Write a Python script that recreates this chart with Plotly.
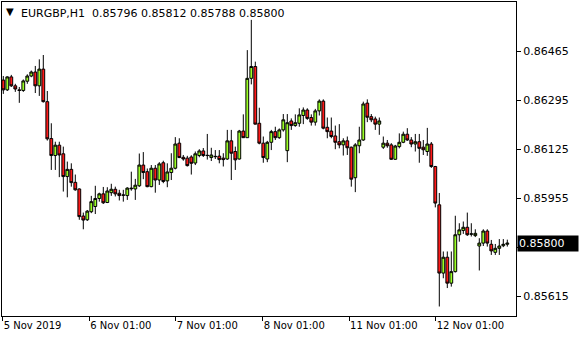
import plotly.graph_objects as go

symbol_text = "EURGBP,H1  0.85796 0.85812 0.85788 0.85800"
last_price = 0.85800

opens = [0.86366, 0.86332, 0.86377, 0.86346, 0.86332, 0.86330, 0.86362, 0.86380, 0.86394, 0.86346,
         0.86404, 0.86291, 0.86163, 0.86104, 0.86140, 0.86110, 0.86031, 0.86056, 0.86011, 0.85988,
         0.85894, 0.85881, 0.85909, 0.85927, 0.85955, 0.85971, 0.85941, 0.85975, 0.85987, 0.85973,
         0.85966, 0.85965, 0.85991, 0.85988, 0.85999, 0.86071, 0.86048, 0.85996, 0.86060, 0.86019,
         0.86079, 0.86016, 0.86045, 0.86060, 0.86147, 0.86098, 0.86095, 0.86099, 0.86078, 0.86104,
         0.86120, 0.86105, 0.86097, 0.86100, 0.86102, 0.86095, 0.86092, 0.86155, 0.86118, 0.86092,
         0.86189, 0.86166, 0.86372, 0.86413, 0.86216, 0.86147, 0.86092, 0.86150, 0.86187, 0.86166,
         0.86193, 0.86121, 0.86224, 0.86208, 0.86216, 0.86243, 0.86262, 0.86236, 0.86220, 0.86259,
         0.86293, 0.86202, 0.86189, 0.86172, 0.86152, 0.86141, 0.86155, 0.86133, 0.86027, 0.86138,
         0.86158, 0.86286, 0.86239, 0.86231, 0.86213, 0.86133, 0.86147, 0.86141, 0.86091, 0.86135,
         0.86150, 0.86178, 0.86158, 0.86144, 0.86152, 0.86133, 0.86118, 0.86144, 0.86066, 0.85933,
         0.85696, 0.85751, 0.85661, 0.85701, 0.85829, 0.85844, 0.85855, 0.85831, 0.85826, 0.85790,
         0.85800, 0.85842, 0.85796, 0.85768, 0.85782, 0.85791, 0.85796]

highs = [0.86380, 0.86379, 0.86384, 0.86353, 0.86342, 0.86368, 0.86386, 0.86399, 0.86415, 0.86438,
         0.86453, 0.86328, 0.86216, 0.86152, 0.86152, 0.86135, 0.86083, 0.86077, 0.86038, 0.85990,
         0.85906, 0.85915, 0.85964, 0.85999, 0.85975, 0.85995, 0.85994, 0.86006, 0.85996, 0.85985,
         0.85985, 0.85994, 0.86048, 0.86023, 0.86111, 0.86116, 0.86059, 0.86071, 0.86071, 0.86081,
         0.86086, 0.86077, 0.86112, 0.86168, 0.86164, 0.86106, 0.86103, 0.86105, 0.86118, 0.86126,
         0.86130, 0.86179, 0.86131, 0.86123, 0.86123, 0.86112, 0.86193, 0.86193, 0.86135, 0.86193,
         0.86247, 0.86470, 0.86575, 0.86430, 0.86270, 0.86170, 0.86155, 0.86193, 0.86204, 0.86198,
         0.86248, 0.86248, 0.86233, 0.86247, 0.86268, 0.86271, 0.86268, 0.86247, 0.86266, 0.86299,
         0.86299, 0.86236, 0.86236, 0.86208, 0.86213, 0.86164, 0.86170, 0.86135, 0.86147, 0.86204,
         0.86291, 0.86299, 0.86248, 0.86239, 0.86236, 0.86170, 0.86158, 0.86147, 0.86141, 0.86181,
         0.86187, 0.86199, 0.86168, 0.86179, 0.86179, 0.86158, 0.86200, 0.86151, 0.86068, 0.85974,
         0.85771, 0.85771, 0.85771, 0.85895, 0.85869, 0.85875, 0.85906, 0.85869, 0.85848, 0.85817,
         0.85848, 0.85848, 0.85811, 0.85797, 0.85814, 0.85814, 0.85812]

lows = [0.86318, 0.86328, 0.86342, 0.86325, 0.86287, 0.86325, 0.86353, 0.86376, 0.86321, 0.86311,
        0.86288, 0.86156, 0.86054, 0.86054, 0.86029, 0.85979, 0.85959, 0.85996, 0.85982, 0.85881,
        0.85848, 0.85877, 0.85904, 0.85901, 0.85944, 0.85936, 0.85939, 0.85964, 0.85962, 0.85948,
        0.85944, 0.85950, 0.85982, 0.85950, 0.85995, 0.86022, 0.85994, 0.85994, 0.85975, 0.86002,
        0.86008, 0.85994, 0.86019, 0.86056, 0.86095, 0.86086, 0.86066, 0.86038, 0.86071, 0.86098,
        0.86099, 0.86090, 0.86085, 0.86092, 0.86077, 0.86066, 0.86089, 0.86019, 0.86054, 0.86090,
        0.86165, 0.86165, 0.86351, 0.86212, 0.86143, 0.86079, 0.86081, 0.86123, 0.86158, 0.86162,
        0.86187, 0.86081, 0.86193, 0.86204, 0.86204, 0.86213, 0.86228, 0.86208, 0.86208, 0.86243,
        0.86195, 0.86164, 0.86164, 0.86126, 0.86129, 0.86104, 0.86106, 0.85996, 0.85977, 0.86112,
        0.86155, 0.86220, 0.86220, 0.86193, 0.86176, 0.86127, 0.86131, 0.86089, 0.86089, 0.86129,
        0.86147, 0.86155, 0.86133, 0.86118, 0.86079, 0.86106, 0.86103, 0.86061, 0.85924, 0.85580,
        0.85678, 0.85644, 0.85649, 0.85698, 0.85805, 0.85832, 0.85825, 0.85823, 0.85821, 0.85705,
        0.85790, 0.85788, 0.85759, 0.85759, 0.85759, 0.85786, 0.85788]

closes = [0.86332, 0.86377, 0.86346, 0.86335, 0.86330, 0.86363, 0.86380, 0.86394, 0.86346, 0.86404,
          0.86291, 0.86162, 0.86104, 0.86140, 0.86106, 0.86031, 0.86056, 0.86010, 0.85985, 0.85892,
          0.85880, 0.85911, 0.85944, 0.85955, 0.85971, 0.85940, 0.85981, 0.85987, 0.85971, 0.85965,
          0.85967, 0.85991, 0.85989, 0.86001, 0.86071, 0.86045, 0.85996, 0.86060, 0.86019, 0.86075,
          0.86014, 0.86047, 0.86060, 0.86144, 0.86097, 0.86092, 0.86069, 0.86077, 0.86110, 0.86120,
          0.86104, 0.86104, 0.86106, 0.86101, 0.86090, 0.86090, 0.86155, 0.86112, 0.86089, 0.86189,
          0.86166, 0.86372, 0.86413, 0.86213, 0.86147, 0.86097, 0.86150, 0.86187, 0.86166, 0.86193,
          0.86228, 0.86218, 0.86208, 0.86218, 0.86245, 0.86262, 0.86233, 0.86220, 0.86259, 0.86293,
          0.86199, 0.86187, 0.86170, 0.86150, 0.86141, 0.86155, 0.86131, 0.86022, 0.86141, 0.86158,
          0.86283, 0.86237, 0.86228, 0.86213, 0.86224, 0.86147, 0.86138, 0.86091, 0.86137, 0.86150,
          0.86178, 0.86158, 0.86144, 0.86152, 0.86129, 0.86124, 0.86144, 0.86066, 0.85939, 0.85696,
          0.85751, 0.85661, 0.85701, 0.85829, 0.85846, 0.85855, 0.85829, 0.85832, 0.85834, 0.85800,
          0.85842, 0.85800, 0.85773, 0.85782, 0.85790, 0.85796, 0.85800]

bar_index = list(range(len(opens)))

x_tick_pos = [-0.15, 21.5, 43.1, 64.85, 86.45, 108.1]
x_tick_text = ["5 Nov 2019", "6 Nov 01:00", "7 Nov 01:00", "8 Nov 01:00", "11 Nov 01:00", "12 Nov 01:00"]
y_tick_vals = [0.86465, 0.86295, 0.86125, 0.85955, 0.85785, 0.85615]
y_tick_text = ["0.86465", "0.86295", "0.86125", "0.85955", "0.85785", "0.85615"]

fig = go.Figure()
fig.add_trace(go.Candlestick(
    x=bar_index, open=opens, high=highs, low=lows, close=closes,
    increasing=dict(fillcolor="#9bff26", line=dict(color="black", width=1)),
    decreasing=dict(fillcolor="#ff1a1a", line=dict(color="black", width=1)),
    whiskerwidth=0, showlegend=False, hoverinfo="skip",
))

fig.update_layout(
    width=580, height=340,
    margin=dict(l=2, r=64, t=2, b=24),
    paper_bgcolor="white", plot_bgcolor="white",
    showlegend=False,
    boxgap=0.0,
    font=dict(family="DejaVu Sans", size=11, color="black"),
    xaxis=dict(
        range=[-0.325, 128.175], rangeslider=dict(visible=False),
        showgrid=False, zeroline=False,
        showline=True, linecolor="black", linewidth=1, mirror=True,
        tickmode="array", tickvals=x_tick_pos, ticktext=x_tick_text,
        ticks="outside", ticklen=4, tickcolor="black", tickwidth=1,
        ticklabelposition="outside right",
        tickfont=dict(family="DejaVu Sans", size=10, color="black"),
    ),
    yaxis=dict(
        range=[0.85547, 0.86637], side="right",
        showgrid=False, zeroline=False,
        showline=True, linecolor="black", linewidth=1, mirror=True,
        tickmode="array", tickvals=y_tick_vals, ticktext=y_tick_text,
        ticks="outside", ticklen=4, tickcolor="black", tickwidth=1,
        tickfont=dict(family="DejaVu Sans", size=11, color="black"),
    ),
)

# current price box on the price scale
fig.add_annotation(
    xref="paper", yref="y", x=1, y=last_price, xanchor="left", yanchor="middle",
    xshift=1, text=f"{last_price:.5f}", showarrow=False,
    font=dict(family="DejaVu Sans", size=11, color="white"),
    bgcolor="black", borderpad=1, width=58, align="left",
)

# header
fig.add_annotation(
    xref="paper", yref="paper", x=0, y=1, xanchor="left", yanchor="top",
    xshift=2, yshift=-2, text="\u25BC", showarrow=False,
    font=dict(family="DejaVu Sans", size=10, color="black"),
)
fig.add_annotation(
    xref="paper", yref="paper", x=0, y=1, xanchor="left", yanchor="top",
    xshift=17, yshift=-3, text=symbol_text.replace("  ", "&nbsp;&nbsp;"), showarrow=False,
    font=dict(family="DejaVu Sans", size=11, color="black"),
)

fig.write_html("out.html")
